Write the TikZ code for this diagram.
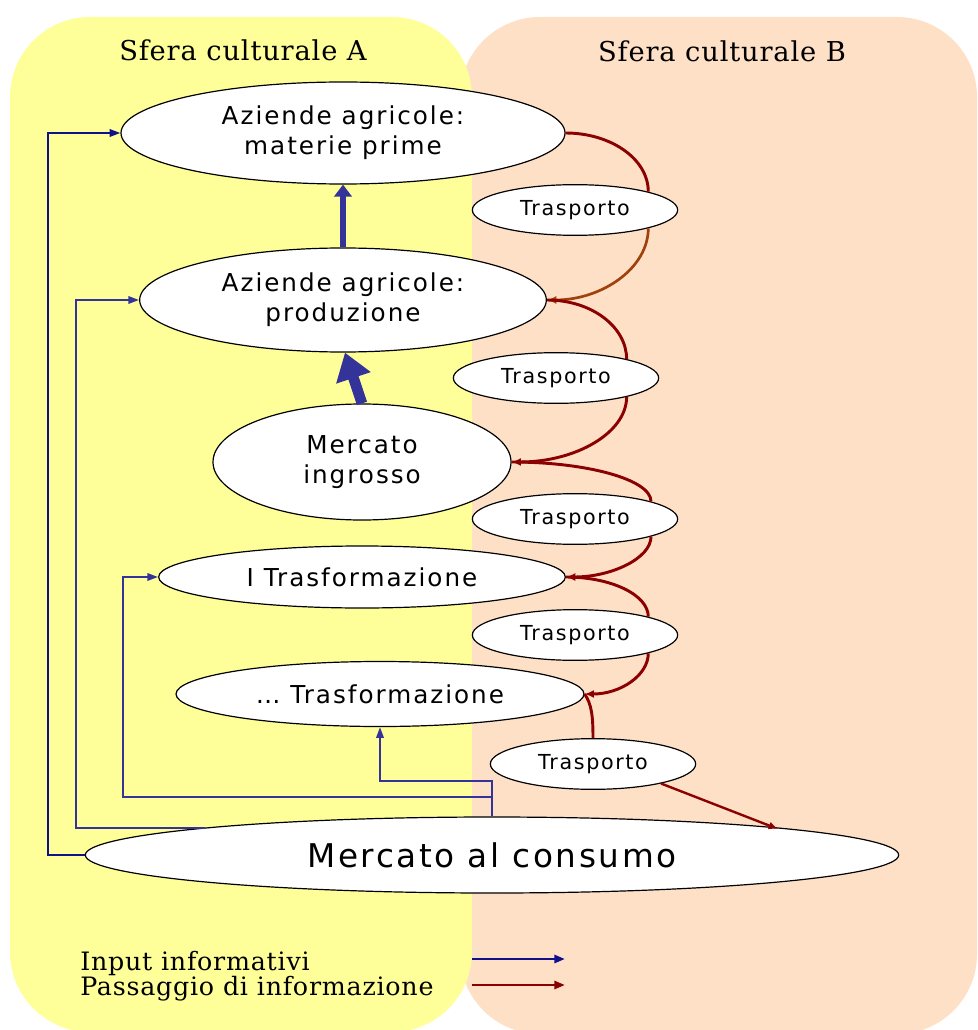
\documentclass[tikz,border=0pt]{standalone}
\usepackage{fontspec}
\setmainfont{DejaVu Serif}
\newfontfamily\titlefont[LetterSpace=3]{DejaVu Serif}
\newfontfamily\boxfont[LetterSpace=8]{DejaVu Sans}
\usetikzlibrary{arrows.meta,shapes.geometric}
\definecolor{sferaA}{HTML}{FFFF99}
\definecolor{sferaB}{HTML}{FEE0C6}
\definecolor{navyline}{HTML}{10108A}
\definecolor{infoblue}{HTML}{333399}
\definecolor{goodsred}{HTML}{8B0000}
\definecolor{rust}{HTML}{A0400A}
\begin{document}
\begin{tikzpicture}[x=0.75pt,y=-0.75pt,
  stage/.style={ellipse, draw=black, fill=white, line width=0.9pt, inner sep=0pt,
    align=center, font=\boxfont\fontsize{18.5}{22.5}\selectfont},
  transport/.style={ellipse, draw=black, fill=white, line width=0.9pt, inner sep=0pt,
    minimum width=154pt, minimum height=38pt, font=\boxfont\fontsize{15.5}{17}\selectfont},
  sphere/.style={font=\titlefont\fontsize{20.5}{24}\selectfont},
  legend/.style={font=\titlefont\fontsize{19}{22}\selectfont, anchor=base west, inner sep=0pt},
  flow/.style={draw=goodsred, line width=2.2pt},
  flowtip/.style={-{Latex[length=7pt,width=6pt]}},
  info/.style={draw=infoblue, line width=1.5pt, -{Triangle[length=8pt,width=5.5pt]}},
  infodark/.style={draw=navyline, line width=1.6pt, -{Triangle[length=8pt,width=5.5pt]}},
]
\useasboundingbox (0,0) rectangle (977,1030);

% the two cultural spheres
\fill[sferaB, rounded corners=60] (460,17) rectangle (977,1034);
\fill[sferaA, rounded corners=60] (10,17) rectangle (472,1032);
\node[sphere] (titA) at (243,50) {Sfera culturale A};
\node[sphere] (titB) at (722,51) {Sfera culturale B};

% stages of the chain
\node[stage, minimum width=333pt, minimum height=76.5pt] (n1) at (343,133) {Aziende agricole:\\materie prime};
\node[stage, minimum width=305pt, minimum height=78pt] (n2) at (343,300) {Aziende agricole:\\produzione};
\node[stage, minimum width=223.5pt, minimum height=87pt] (n3) at (362,462) {Mercato\\ingrosso};
\node[stage, minimum width=305pt, minimum height=46.5pt] (n4) at (362,577) {I Trasformazione};
\node[stage, minimum width=306pt, minimum height=48.75pt] (n5) at (380,694) {\dots{} Trasformazione};
\node[stage, minimum width=610pt, minimum height=57pt, font=\boxfont\fontsize{24.5}{28}\selectfont] (cons) at (492,855) {Mercato al consumo};

% transport links
\node[transport] (t1) at (575,210) {Trasporto};
\node[transport] (t2) at (556,378) {Trasporto};
\node[transport] (t3) at (575,519) {Trasporto};
\node[transport] (t4) at (575,635) {Trasporto};
\node[transport] (t5) at (593,764) {Trasporto};

% flow of goods through transport
\draw[flow] (n1.east) .. controls +(45,0) and +(0,-33) .. (t1.14);
\draw[flow, draw=rust, line width=2pt, flowtip] (t1.-14) .. controls +(0,40) and +(55,0) .. (n2.east);
\draw[flow] (n2.east) .. controls +(45,0) and +(0,-32) .. (t2.15);
\draw[flow, flowtip] (t2.-15) .. controls +(0,36) and +(64,0) .. (n3.east);
\draw[flow] (n3.east) .. controls +(75,0) and +(0,-22) .. (t3.13);
\draw[flow, flowtip] (t3.-13) .. controls +(0,22) and +(45,0) .. (n4.east);
\draw[flow] (n4.east) .. controls +(45,0) and +(0,-22) .. (t4.14);
\draw[flow, flowtip] (t4.-14) .. controls +(0,22) and +(36,0) .. (n5.east);
\draw[flow] (n5.east) .. controls +(7,10) and +(0,-22) .. (t5.north);
\draw[flow, line width=1.8pt, flowtip] (t5.-16) -- ([shift={(214.5pt,19.5pt)}]cons.center);

% information passed upward
\draw[draw=infoblue, line width=5pt, -{Triangle[length=9pt,width=13pt]}] (n2.north) -- (n1.south);
\draw[draw=infoblue, line width=8pt, -{Triangle[length=20pt,width=26pt]}] (n3.north) -- ([xshift=1.5pt]n2.south);

% information inputs from the consumer market
\draw[infodark] (cons.west) -- ++(-37,0) |- (n1.west);
\draw[info] ([shift={(-215pt,20.2pt)}]cons.center) -| ([xshift=-47pt]n2.west) -- (n2.west);
\draw[info] (cons.north) -- ++(0,-19) -- ++(-369,0) |- (n4.west);
\draw[info] (cons.north) -- ++(0,-35) -| (n5.south);

% legend
\node[legend] (lg1) at (80,970) {Input informativi};
\node[legend] (lg2) at (80,995) {Passaggio di informazione};
\coordinate (a1s) at (472,959);
\coordinate (a1e) at (565,959);
\coordinate (a2s) at (472,985);
\coordinate (a2e) at (565,985);
\draw[draw=navyline, line width=2pt, -{Triangle[length=8pt,width=6pt]}] (a1s) -- (a1e);
\draw[draw=goodsred, line width=2pt, -{Triangle[length=8pt,width=6pt]}] (a2s) -- (a2e);
\end{tikzpicture}
\end{document}
